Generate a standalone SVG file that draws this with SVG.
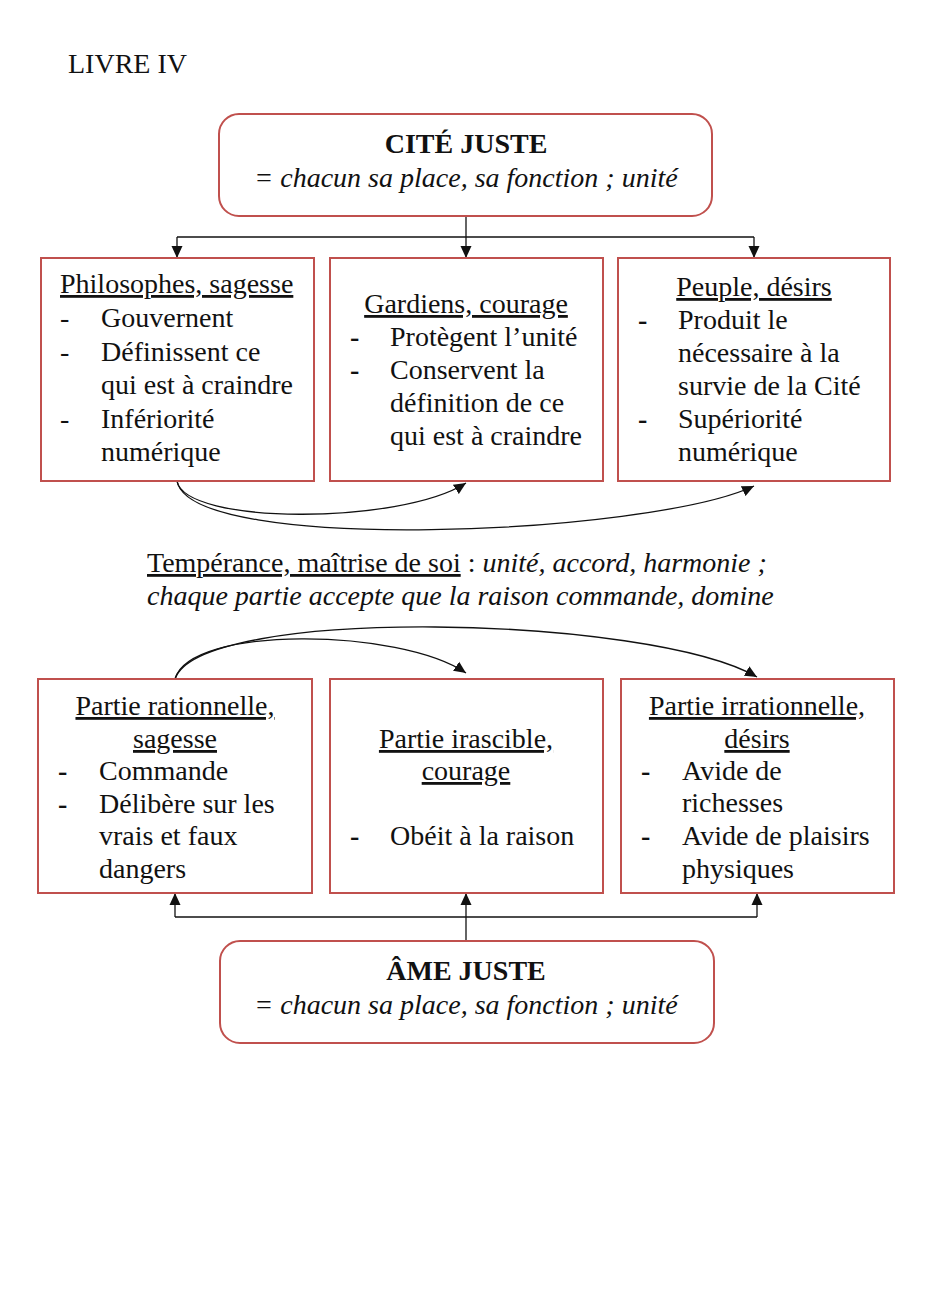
<svg xmlns="http://www.w3.org/2000/svg" width="936" height="1297" viewBox="0 0 936 1297">
<style>
text{font-family:"Liberation Serif","Times New Roman",serif;font-size:28px;fill:#111}
.b{font-weight:bold}
.i{font-style:italic}
.u{text-decoration:underline}
.m{text-anchor:middle}
.box{fill:#fff;stroke:#c0504d;stroke-width:2}
.c{fill:none;stroke:#111;stroke-width:1.3}
</style>
<defs>
<marker id="ah" viewBox="0 0 12 12" refX="12" refY="6" markerWidth="12" markerHeight="12" markerUnits="userSpaceOnUse" orient="auto">
<path d="M0,0.5 L12,6 L0,11.5 Z" fill="#111"/>
</marker>
</defs>
<rect width="936" height="1297" fill="#fff"/>
<text x="68" y="73">LIVRE IV</text>

<g id="connectors">
<path class="c" d="M466,216 V258" marker-end="url(#ah)"/>
<path class="c" d="M177,237 H754"/>
<path class="c" d="M177,237 V258" marker-end="url(#ah)"/>
<path class="c" d="M754,237 V258" marker-end="url(#ah)"/>
<path class="c" d="M177,481 C185,525 400,525 466,483" marker-end="url(#ah)"/>
<path class="c" d="M177,481 C190,555 650,535 754,486" marker-end="url(#ah)"/>
<path class="c" d="M175,679 C190,625 400,628 466,673" marker-end="url(#ah)"/>
<path class="c" d="M175,679 C200,605 650,615 757,677" marker-end="url(#ah)"/>
<path class="c" d="M466,941 V893" marker-end="url(#ah)"/>
<path class="c" d="M175,917 H757"/>
<path class="c" d="M175,917 V893" marker-end="url(#ah)"/>
<path class="c" d="M757,917 V893" marker-end="url(#ah)"/>
</g>

<g id="cite">
<rect class="box" x="219" y="114" width="493" height="102" rx="20"/>
<text class="b m" x="466" y="153">CITÉ JUSTE</text>
<text class="i m" x="466" y="187">= chacun sa place, sa fonction ; unité</text>
</g>

<g id="philosophes">
<rect class="box" x="41" y="258" width="273" height="223"/>
<text class="u" x="60" y="293">Philosophes, sagesse</text>
<text x="60" y="327">-</text><text x="101" y="327">Gouvernent</text>
<text x="60" y="361">-</text><text x="101" y="361">Définissent ce</text>
<text x="101" y="394">qui est à craindre</text>
<text x="60" y="428">-</text><text x="101" y="428">Infériorité</text>
<text x="101" y="461">numérique</text>
</g>

<g id="gardiens">
<rect class="box" x="330" y="258" width="273" height="223"/>
<text class="u m" x="466" y="313">Gardiens, courage</text>
<text class="b" x="350" y="346">-</text><text x="390" y="346">Protègent l’unité</text>
<text class="b" x="350" y="379">-</text><text x="390" y="379">Conservent la</text>
<text x="390" y="412">définition de ce</text>
<text x="390" y="445">qui est à craindre</text>
</g>

<g id="peuple">
<rect class="box" x="618" y="258" width="272" height="223"/>
<text class="u m" x="754" y="296">Peuple, désirs</text>
<text class="b" x="638" y="329">-</text><text x="678" y="329">Produit le</text>
<text x="678" y="362">nécessaire à la</text>
<text x="678" y="395">survie de la Cité</text>
<text class="b" x="638" y="428">-</text><text x="678" y="428">Supériorité</text>
<text x="678" y="461">numérique</text>
</g>

<g id="temperance">
<text x="147" y="572"><tspan class="u">Tempérance, maîtrise de soi</tspan> : <tspan class="i">unité, accord, harmonie ;</tspan></text>
<text class="i" x="147" y="605">chaque partie accepte que la raison commande, domine</text>
</g>

<g id="rationnelle">
<rect class="box" x="38" y="679" width="274" height="214"/>
<text class="u m" x="175" y="715">Partie rationnelle,</text>
<text class="u m" x="175" y="748">sagesse</text>
<text class="b" x="58" y="780">-</text><text x="99" y="780">Commande</text>
<text class="b" x="58" y="813">-</text><text x="99" y="813">Délibère sur les</text>
<text x="99" y="845">vrais et faux</text>
<text x="99" y="878">dangers</text>
</g>

<g id="irascible">
<rect class="box" x="330" y="679" width="273" height="214"/>
<text class="u m" x="466" y="748">Partie irascible,</text>
<text class="u m" x="466" y="780">courage</text>
<text class="b" x="350" y="845">-</text><text x="390" y="845">Obéit à la raison</text>
</g>

<g id="irrationnelle">
<rect class="box" x="621" y="679" width="273" height="214"/>
<text class="u m" x="757" y="715">Partie irrationnelle,</text>
<text class="u m" x="757" y="748">désirs</text>
<text class="b" x="641" y="780">-</text><text x="682" y="780">Avide de</text>
<text x="682" y="812">richesses</text>
<text class="b" x="641" y="845">-</text><text x="682" y="845">Avide de plaisirs</text>
<text x="682" y="878">physiques</text>
</g>

<g id="ame">
<rect class="box" x="220" y="941" width="494" height="102" rx="20"/>
<text class="b m" x="466" y="980">ÂME JUSTE</text>
<text class="i m" x="466" y="1014">= chacun sa place, sa fonction ; unité</text>
</g>
</svg>
